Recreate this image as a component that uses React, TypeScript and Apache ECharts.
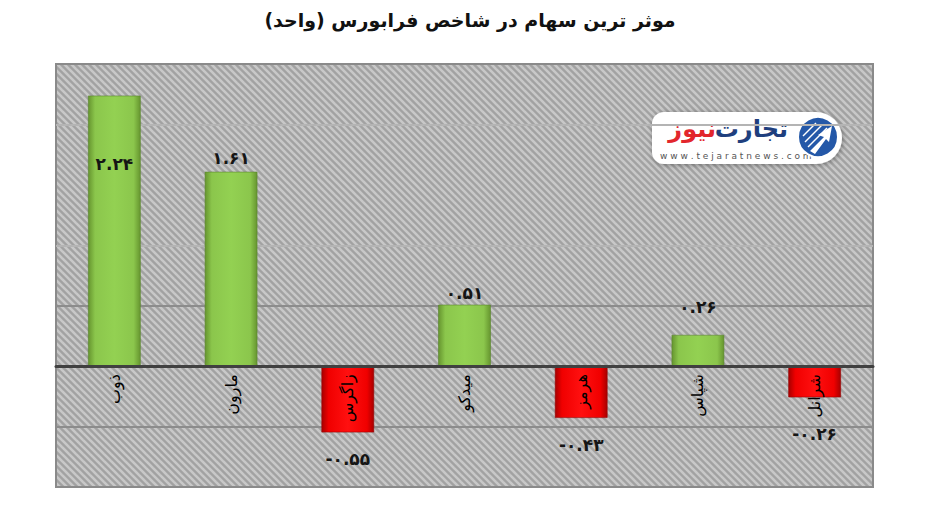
import React, { useEffect, useRef } from "react";
import * as echarts from "echarts";

const titleText = "موثر ترین سهام در شاخص فرابورس (واحد)";
const categories = ["ذوب", "مارون", "زاگرس", "میدکو", "هرمز", "شپاس", "شرانل"];
const values = [2.24, 1.61, -0.55, 0.51, -0.43, 0.26, -0.26];
const yMin = -1;
const yMax = 2.5;
const yStep = 0.5;

const FONT = "'DejaVu Sans', sans-serif";

// label placement tweaks (style, not data)
const labelPlacement = [
  { position: "insideTop", offset: [0, 55] },
  { position: "top", offset: [0, 0] },
  { position: "bottom", offset: [0, 13] },
  { position: "top", offset: [0, 2] },
  { position: "bottom", offset: [0, 13] },
  { position: "top", offset: [0, -14] },
  { position: "bottom", offset: [0, 23] },
];

const toPersianDigits = (s: string) =>
  s.replace(/\d/g, (d) => "۰۱۲۳۴۵۶۷۸۹"[Number(d)]);

function makeStripePattern() {
  const size = 7;
  const c = document.createElement("canvas");
  c.width = size;
  c.height = size;
  const ctx = c.getContext("2d")!;
  ctx.fillStyle = "#a2a2a2";
  ctx.fillRect(0, 0, size, size);
  ctx.strokeStyle = "#c8c8c8";
  ctx.lineWidth = 2.6;
  for (const dx of [-size, 0, size]) {
    ctx.beginPath();
    ctx.moveTo(dx - 1, -1);
    ctx.lineTo(dx + size + 1, size + 1);
    ctx.stroke();
  }
  return { image: c, repeat: "repeat", imageWidth: size, imageHeight: size };
}

const greenFill = new echarts.graphic.LinearGradient(0, 0, 1, 0, [
  { offset: 0, color: "#66952f" },
  { offset: 0.13, color: "#8bc64c" },
  { offset: 0.5, color: "#93d152" },
  { offset: 0.87, color: "#8bc64c" },
  { offset: 1, color: "#66952f" },
]);
const redFill = new echarts.graphic.LinearGradient(0, 0, 1, 0, [
  { offset: 0, color: "#a80000" },
  { offset: 0.13, color: "#f00000" },
  { offset: 0.5, color: "#ff1010" },
  { offset: 0.87, color: "#f00000" },
  { offset: 1, color: "#a80000" },
]);

export default function App() {
  const ref = useRef<HTMLDivElement>(null);
  useEffect(() => {
    if (!ref.current) return;
    const chart = echarts.init(ref.current, undefined, { renderer: "svg" });
    const pattern = makeStripePattern();

    const data = values.map((v, i) => ({
      value: v,
      itemStyle: {
        color: v >= 0 ? greenFill : redFill,
        borderColor: v >= 0 ? "rgba(90,135,45,0.6)" : "rgba(150,0,0,0.6)",
        borderWidth: 1,
      },
      label: {
        show: true,
        position: labelPlacement[i].position,
        offset: labelPlacement[i].offset,
        formatter: () => toPersianDigits(v.toFixed(2)),
      },
    }));

    chart.setOption({
      animation: false,
      backgroundColor: "#ffffff",
      textStyle: { fontFamily: FONT },
      title: {
        text: titleText,
        left: "center",
        top: 5,
        textStyle: {
          fontFamily: FONT,
          fontSize: 19,
          fontWeight: "bold",
          color: "#111",
        },
      },
      grid: {
        show: true,
        left: 56,
        right: 67,
        top: 64,
        bottom: 29,
        backgroundColor: pattern,
        borderColor: "#8a8a8a",
        borderWidth: 2,
        containLabel: false,
        outerBoundsMode: "none",
      },
      xAxis: {
        type: "category",
        data: categories,
        z: 10,
        offset: 0,
        axisLine: { show: true, onZero: false, lineStyle: { color: "#404040", width: 3 } },
        axisTick: { show: false },
        axisLabel: {
          rotate: 90,
          interval: 0,
          margin: 8,
          fontSize: 16,
          color: "#000",
          fontFamily: FONT,
        },
        splitLine: { show: false },
      },
      yAxis: {
        type: "value",
        min: yMin,
        max: yMax,
        interval: yStep,
        axisLabel: { show: false },
        axisLine: { show: false },
        axisTick: { show: false },
        splitLine: {
          show: true,
          lineStyle: {
            width: 2,
            color: [
              "rgba(0,0,0,0)",
              "#8c8c8c",
              "rgba(0,0,0,0)",
              "#8c8c8c",
              "#b4b4b4",
              "rgba(0,0,0,0)",
              "#b4b4b4",
              "rgba(0,0,0,0)",
            ],
          },
        },
      },
      series: [
        {
          type: "bar",
          data,
          barWidth: 53,
          label: {
            show: true,
            fontSize: 17,
            fontWeight: "bold",
            color: "#151515",
            fontFamily: FONT,
          },
        },
      ],
      graphic: [
        {
          type: "group",
          left: 652,
          top: 112,
          children: [
            {
              type: "rect",
              shape: { x: 0, y: 0, width: 190, height: 52, r: [12, 26, 26, 12] },
              style: {
                fill: "#ffffff",
                shadowBlur: 5,
                shadowColor: "rgba(0,0,0,0.35)",
                shadowOffsetX: 1,
                shadowOffsetY: 1,
              },
            },
            {
              type: "text",
              x: 136,
              y: 17,
              style: {
                text: "تجارت",
                fill: "#1f3f7e",
                font: "bold 24px " + FONT,
                align: "right",
                verticalAlign: "middle",
              },
            },
            {
              type: "text",
              x: 64,
              y: 17,
              style: {
                text: "نیوز",
                fill: "#e2262c",
                font: "bold 24px " + FONT,
                align: "right",
                verticalAlign: "middle",
              },
            },
            {
              type: "text",
              x: 8,
              y: 44,
              style: {
                text: "w w w . t e j a r a t n e w s . c o m",
                fill: "#555555",
                font: "9px " + FONT,
                align: "left",
                verticalAlign: "middle",
              },
            },
            {
              type: "circle",
              shape: { cx: 166, cy: 25, r: 20 },
              style: { fill: "#2458a8", stroke: "#ffffff", lineWidth: 2 },
            },
            {
              type: "line",
              shape: { x1: 151, y1: 24, x2: 164, y2: 11 },
              style: { stroke: "#ffffff", lineWidth: 1.5 },
            },
            {
              type: "line",
              shape: { x1: 153, y1: 30, x2: 170, y2: 13 },
              style: { stroke: "#ffffff", lineWidth: 1.5 },
            },
            {
              type: "line",
              shape: { x1: 156, y1: 35, x2: 175, y2: 16 },
              style: { stroke: "#ffffff", lineWidth: 1.5 },
            },
            {
              type: "polygon",
              shape: {
                points: [
                  [158, 39],
                  [172, 25],
                  [166, 23],
                  [180, 14],
                  [177, 30],
                  [174, 27],
                  [163, 42],
                ],
              },
              style: { fill: "#ffffff" },
            },
          ],
        },
      ],
    });

    // Move the category axis (line + labels) to the zero level using the value scale.
    const zeroPx = chart.convertToPixel({ yAxisIndex: 0 }, 0) as number;
    const bottomPx = chart.convertToPixel({ yAxisIndex: 0 }, yMin) as number;
    chart.setOption({ xAxis: { offset: zeroPx - bottomPx } });

    return () => chart.dispose();
  }, []);
  return (
    <div
      ref={ref}
      style={{ position: "fixed", left: 0, top: 0, width: 940, height: 516 }}
    />
  );
}
